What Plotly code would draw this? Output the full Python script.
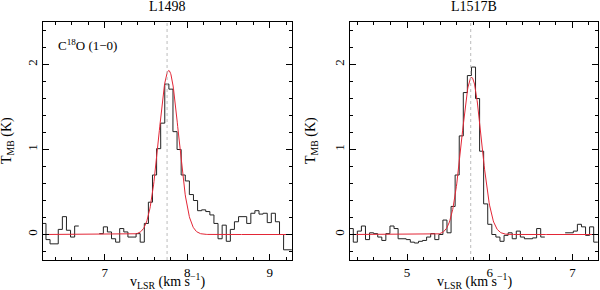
import numpy as np
import plotly.graph_objects as go
from plotly.subplots import make_subplots

# ---------------- data ----------------
titles = ["L1498", "L1517B"]
line_label = "C<sup>18</sup>O (1−0)"

# channel centre velocities (km/s) and main-beam temperatures (K); None = blanked channel
v_l1498 = [6.261, 6.311, 6.360, 6.410, 6.460, 6.510, 6.559, 6.609, 6.659, 6.708,
           6.758, 6.808, 6.857, 6.907, 6.957, 7.007, 7.056, 7.106, 7.156, 7.205,
           7.255, 7.305, 7.354, 7.404, 7.454, 7.504, 7.553, 7.603, 7.653, 7.702,
           7.752, 7.802, 7.851, 7.901, 7.951, 8.001, 8.050, 8.100, 8.150, 8.199,
           8.249, 8.299, 8.348, 8.398, 8.448, 8.498, 8.547, 8.597, 8.647, 8.696,
           8.746, 8.796, 8.845, 8.895, 8.945, 8.995, 9.044, 9.094, 9.144, 9.193,
           9.243]
t_l1498 = [0.13, -0.06, -0.11, -0.11, 0.06, 0.21, 0.05, -0.03, 0.10, None,
           None, None, None, None, 0.01, 0.09, 0.03, -0.05, -0.09, 0.07,
           0.03, -0.03, -0.03, 0.01, -0.09, 0.13, 0.38, 0.70, 1.01, 1.31,
           1.77, 1.71, 1.21, 1.00, 0.70, 0.63, 0.47, 0.40, 0.28, 0.29,
           0.27, 0.23, 0.13, -0.05, 0.11, -0.08, 0.06, 0.15, 0.21, 0.21,
           0.13, 0.25, 0.28, 0.24, 0.25, 0.14, 0.25, 0.15, 0.00, -0.18,
           -0.18]

v_l1517b = [4.325, 4.374, 4.423, 4.472, 4.522, 4.571, 4.620, 4.670, 4.719, 4.768,
            4.818, 4.867, 4.916, 4.965, 5.015, 5.064, 5.113, 5.163, 5.212, 5.261,
            5.311, 5.360, 5.409, 5.458, 5.508, 5.557, 5.606, 5.656, 5.705, 5.754,
            5.804, 5.853, 5.902, 5.951, 6.001, 6.050, 6.099, 6.149, 6.198, 6.247,
            6.297, 6.346, 6.395, 6.444, 6.494, 6.543, 6.592, 6.642, 6.691, 6.740,
            6.790, 6.839, 6.888, 6.937, 6.987, 7.036, 7.085, 7.135, 7.184, 7.233,
            7.283]
t_l1517b = [0.07, -0.09, 0.04, 0.10, -0.06, 0.02, 0.01, -0.03, -0.07, 0.01,
            0.10, 0.07, -0.05, -0.05, -0.06, -0.09, -0.10, -0.08, -0.07, -0.03,
            0.01, -0.06, 0.00, 0.17, 0.02, 0.33, 0.70, 1.16, 1.67, 1.87,
            1.97, 1.60, 0.98, 0.36, 0.12, 0.00, -0.03, -0.08, -0.01, 0.02,
            -0.05, 0.04, -0.03, -0.05, -0.05, -0.04, 0.07, -0.03, None, None,
            None, None, None, 0.02, 0.02, 0.04, 0.12, 0.09, -0.01, 0.09,
            -0.09]

# Gaussian fit parameters: amplitude (K), centre (km/s), FWHM (km/s)
fit_l1498 = [1.93, 7.775, 0.28]
fit_l1517b = [1.85, 5.78, 0.28]

# systemic velocity markers (km/s)
vsys = [7.755, 5.77]

# axis ranges
x_ranges = [[6.25, 9.27], [4.31, 7.31]]
y_range = [-0.3, 2.5]
x_ticks = [[7, 8, 9], [5, 6, 7]]
y_ticks = [0, 1, 2]

FONT = "Liberation Serif"


def steps(v, t):
    dv = v[1] - v[0]
    xs, ys = [], []
    for vi, ti in zip(v, t):
        if ti is None:
            xs.append(None)
            ys.append(None)
            continue
        xs += [vi - dv / 2, vi + dv / 2]
        ys += [ti, ti]
    return xs, ys


def gauss(xr, p):
    a, c, w = p
    x = np.linspace(xr[0], xr[1], 600)
    s = w / (2 * np.sqrt(2 * np.log(2)))
    return x, a * np.exp(-0.5 * ((x - c) / s) ** 2)


fig = make_subplots(rows=1, cols=2, horizontal_spacing=0.1043)

specs = [(v_l1498, t_l1498, fit_l1498), (v_l1517b, t_l1517b, fit_l1517b)]
for i, (v, t, p) in enumerate(specs):
    col = i + 1
    xs, ys = steps(v, t)
    fig.add_trace(go.Scatter(x=xs, y=ys, mode="lines", line=dict(color="#222222", width=1),
                             connectgaps=False, showlegend=False, hoverinfo="skip"), row=1, col=col)
    gx, gy = gauss(x_ranges[i], p)
    fig.add_trace(go.Scatter(x=gx, y=gy, mode="lines", line=dict(color="#e32636", width=1),
                             showlegend=False, hoverinfo="skip"), row=1, col=col)
    axn = "" if i == 0 else "2"
    fig.add_shape(type="line", x0=vsys[i], x1=vsys[i], y0=0, y1=1,
                  xref="x" + axn, yref="y" + axn + " domain",
                  line=dict(color="#bcbcbc", width=1, dash="dot"))

common = dict(showline=True, linecolor="black", linewidth=1, mirror="allticks",
              ticks="inside", ticklen=6, tickwidth=1, tickcolor="black",
              showgrid=False, zeroline=False, automargin=False,
              tickfont=dict(family=FONT, size=13, color="black"))

for i in range(2):
    fig.update_xaxes(range=x_ranges[i], tickvals=x_ticks[i],
                     minor=dict(dtick=0.2, tick0=0, ticks="inside", ticklen=3,
                                tickcolor="black", tickwidth=1, showgrid=False),
                     **common, row=1, col=i + 1)
    fig.update_yaxes(range=y_range, tickvals=y_ticks, tickangle=-90,
                     minor=dict(dtick=0.2, tick0=0, ticks="inside", ticklen=3,
                                tickcolor="black", tickwidth=1, showgrid=False),
                     **common, row=1, col=i + 1)

xd = [[0, 0.4486], [0.5532, 1.0]]
fig.update_xaxes(domain=xd[0], row=1, col=1)
fig.update_xaxes(domain=xd[1], row=1, col=2)

ytitle_shift = [-36, -39]
annots = []
for i in range(2):
    mid = (xd[i][0] + xd[i][1]) / 2
    annots.append(dict(text=titles[i], x=mid, y=1, xref="paper", yref="paper",
                       xanchor="center", yanchor="bottom", yshift=6, showarrow=False,
                       font=dict(family=FONT, size=14, color="black")))
    annots.append(dict(text="v<sub>LSR</sub> (km s<sup>−1</sup>)", x=mid, y=0,
                       xref="paper", yref="paper", xanchor="center", yanchor="bottom",
                       yshift=-33, showarrow=False,
                       font=dict(family=FONT, size=14, color="black")))
    annots.append(dict(text="T<sub>MB</sub> (K)", x=xd[i][0], y=0.5, xref="paper",
                       yref="paper", xanchor="center", yanchor="middle",
                       xshift=ytitle_shift[i], textangle=-90, showarrow=False,
                       font=dict(family=FONT, size=14, color="black")))
annots.append(dict(text=line_label, x=6.41, y=2.23, xref="x", yref="y",
                   xanchor="left", showarrow=False,
                   font=dict(family=FONT, size=13, color="black")))

fig.update_layout(width=600, height=290, margin=dict(l=43, r=2, t=22, b=30),
                  paper_bgcolor="white", plot_bgcolor="white",
                  annotations=annots, font=dict(family=FONT, size=13, color="black"))

fig.write_html("out.html", config={"displayModeBar": False},
               post_script="document.body.style.margin='0';document.body.style.overflow='hidden';")
